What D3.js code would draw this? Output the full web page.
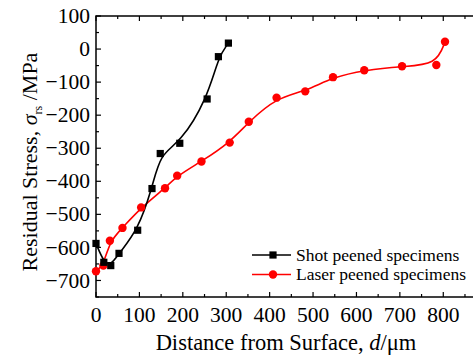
<!DOCTYPE html>
<html>
<head>
<meta charset="utf-8">
<script src="https://cdn.jsdelivr.net/npm/d3@7"></script>
<style>
  body { margin: 0; background: #fff; }
  svg { display: block; }
</style>
</head>
<body>
<div id="chart"></div>
<script>
// shot peened (black squares)
const shotX = [0, 18, 34, 53, 96, 129, 148, 193, 256, 282, 305];
const shotY = [-588, -645, -655, -618, -548, -422, -316, -285, -151, -23, 18];
// laser peened (red circles)
const laserX = [0, 17, 32, 61, 104, 159, 187, 243, 308, 352, 416, 482, 546, 618, 705, 784, 804];
const laserY = [-672, -655, -580, -541, -479, -421, -383, -340, -283, -220, -147, -128, -85, -64, -52, -48, 22];

const xTicks = [0, 100, 200, 300, 400, 500, 600, 700, 800];
const yTicks = [100, 0, -100, -200, -300, -400, -500, -600, -700];
const seriesNames = ["Shot peened specimens", "Laser peened specimens"];

const width = 473, height = 362;
const font = "'Liberation Serif', 'Times New Roman', serif";

const x = d3.scaleLinear().domain([0, 880]).range([96, 478]);
const y = d3.scaleLinear().domain([-750, 100]).range([297, 16]);

const svg = d3.select("#chart").append("svg")
  .attr("width", width)
  .attr("height", height)
  .style("font-family", font);

// 프레임
const x0 = x(0), x1 = x(880), y0 = y(-750), y1 = y(100);
svg.append("rect")
  .attr("x", x0).attr("y", y1)
  .attr("width", x1 - x0).attr("height", y0 - y1)
  .attr("fill", "none").attr("stroke", "#000").attr("stroke-width", 1.5);

// x 눈금 (안쪽으로)
const xMinor = d3.range(50, 880, 100);
const tickG = svg.append("g").attr("stroke", "#000").attr("stroke-width", 1.2);
xTicks.forEach(t => {
  tickG.append("line").attr("x1", x(t)).attr("x2", x(t)).attr("y1", y0).attr("y2", y0 - 5);
  tickG.append("line").attr("x1", x(t)).attr("x2", x(t)).attr("y1", y1).attr("y2", y1 + 5);
});
xMinor.forEach(t => {
  tickG.append("line").attr("x1", x(t)).attr("x2", x(t)).attr("y1", y0).attr("y2", y0 - 3);
  tickG.append("line").attr("x1", x(t)).attr("x2", x(t)).attr("y1", y1).attr("y2", y1 + 3);
});
yTicks.forEach(t => {
  tickG.append("line").attr("x1", x0).attr("x2", x0 + 5).attr("y1", y(t)).attr("y2", y(t));
});
d3.range(-750, 100, 100).forEach(t => {
  tickG.append("line").attr("x1", x0).attr("x2", x0 + 3).attr("y1", y(t)).attr("y2", y(t));
});

const fmt = v => (v < 0 ? "\u2212" + Math.abs(v) : String(v));

svg.append("g").selectAll("text")
  .data(xTicks).enter().append("text")
  .attr("x", d => x(d))
  .attr("y", 322)
  .attr("text-anchor", "middle")
  .style("font-size", "21.5px")
  .text(d => fmt(d));

svg.append("g").selectAll("text")
  .data(yTicks).enter().append("text")
  .attr("x", 90)
  .attr("y", d => y(d))
  .attr("dy", "0.33em")
  .attr("text-anchor", "end")
  .style("font-size", "21.5px")
  .text(d => fmt(d));

// 축 제목
const xl = svg.append("text")
  .attr("x", 286).attr("y", 350)
  .attr("text-anchor", "middle")
  .style("font-size", "22.5px");
xl.append("tspan").text("Distance from Surface, ");
xl.append("tspan").style("font-style", "italic").text("d");
xl.append("tspan").text("/\u03bcm");

const yl = svg.append("text")
  .attr("transform", "translate(37,162) rotate(-90)")
  .attr("text-anchor", "middle")
  .style("font-size", "22px");
yl.append("tspan").text("Residual Stress, ");
yl.append("tspan").style("font-style", "italic").text("\u03c3");
yl.append("tspan").attr("dy", 5).style("font-size", "12px").text("rs");
yl.append("tspan").attr("dy", -5).text(" /MPa");

// 곡선
const line = d3.line().curve(d3.curveBasis).x(d => x(d[0])).y(d => y(d[1]));
const shot = shotX.map((v, i) => [v, shotY[i]]);
const laser = laserX.map((v, i) => [v, laserY[i]]);

svg.append("path").datum(laser)
  .attr("d", line).attr("fill", "none").attr("stroke", "#ff0000").attr("stroke-width", 1.6);
svg.append("path").datum(shot)
  .attr("d", line).attr("fill", "none").attr("stroke", "#000").attr("stroke-width", 1.6);

svg.append("g").selectAll("circle")
  .data(laser).enter().append("circle")
  .attr("cx", d => x(d[0])).attr("cy", d => y(d[1]))
  .attr("r", 4.2).attr("fill", "#ff0000");
svg.append("g").selectAll("rect")
  .data(shot).enter().append("rect")
  .attr("x", d => x(d[0]) - 3.6).attr("y", d => y(d[1]) - 3.6)
  .attr("width", 7.2).attr("height", 7.2).attr("fill", "#000");

// 범례
const legend = svg.append("g").attr("transform", "translate(252,255)");
const colors = ["#000", "#ff0000"];
seriesNames.forEach((name, i) => {
  const g = legend.append("g").attr("transform", `translate(0,${i * 19.5})`);
  g.append("line").attr("x1", 0).attr("x2", 39).attr("y1", 0).attr("y2", 0)
    .attr("stroke", colors[i]).attr("stroke-width", 1.6);
  if (i === 0) {
    g.append("rect").attr("x", 21 - 3.6).attr("y", -3.6).attr("width", 7.2).attr("height", 7.2).attr("fill", colors[i]);
  } else {
    g.append("circle").attr("cx", 21).attr("cy", 0).attr("r", 4.2).attr("fill", colors[i]);
  }
  g.append("text").attr("x", 44).attr("y", 0).attr("dy", "0.32em")
    .style("font-size", "17.5px").text(name);
});
</script>
</body>
</html>
